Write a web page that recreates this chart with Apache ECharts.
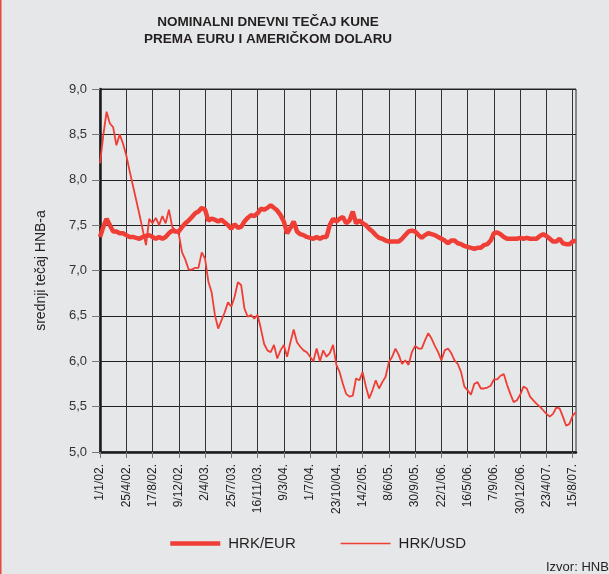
<!DOCTYPE html>
<html>
<head>
<meta charset="utf-8">
<script src="https://cdn.jsdelivr.net/npm/echarts@6.0.0/dist/echarts.min.js"></script>
<style>
html,body{margin:0;padding:0;background:#e6e7e8;}
#c{width:609px;height:574px;}
</style>
</head>
<body>
<div id="c"></div>
<script>
var tickLabels = ['1/1/02.','25/4/02.','17/8/02.','9/12/02.','2/4/03.','25/7/03.','16/11/03.','9/3/04.','1/7/04.','23/10/04.','14/2/05.','8/6/05.','30/9/05.','22/1/06.','16/5/06.','7/9/06.','30/12/06.','23/4/07.','15/8/07.'];
var stepsPerTick = 8;

var hrkUsd = [
8.18, 8.49, 8.75, 8.62, 8.58, 8.38, 8.50, 8.40,
8.27, 8.10, 7.94, 7.78, 7.62, 7.45, 7.28, 7.57,
7.52, 7.58, 7.50, 7.60, 7.52, 7.67, 7.48, 7.44,
7.40, 7.20, 7.12, 7.01, 7.01, 7.03, 7.03, 7.20,
7.13, 6.88, 6.76, 6.51, 6.36, 6.45, 6.54, 6.65,
6.60, 6.71, 6.87, 6.84, 6.58, 6.49, 6.51, 6.47,
6.51, 6.36, 6.19, 6.12, 6.10, 6.18, 6.03, 6.12,
6.18, 6.05, 6.21, 6.35, 6.21, 6.16, 6.12, 6.10,
6.05, 6.00, 6.14, 6.00, 6.12, 6.05, 6.09, 6.18,
5.96, 5.88, 5.75, 5.64, 5.61, 5.62, 5.81, 5.79,
5.88, 5.72, 5.59, 5.68, 5.79, 5.70, 5.77, 5.83,
5.99, 6.05, 6.14, 6.07, 5.97, 6.01, 5.96, 6.10,
6.17, 6.14, 6.14, 6.23, 6.31, 6.25, 6.17, 6.10,
6.01, 6.12, 6.14, 6.09, 6.01, 5.97, 5.88, 5.72,
5.68, 5.63, 5.75, 5.77, 5.70, 5.70, 5.71, 5.73,
5.80, 5.80, 5.84, 5.86, 5.74, 5.64, 5.55, 5.57,
5.63, 5.72, 5.70, 5.61, 5.57, 5.53, 5.50, 5.46,
5.42, 5.39, 5.42, 5.49, 5.48, 5.39, 5.29, 5.31,
5.40, 5.44
];

var hrkEur = [
7.37, 7.48, 7.57, 7.50, 7.43, 7.43, 7.41, 7.41,
7.39, 7.37, 7.37, 7.36, 7.35, 7.37, 7.38, 7.39,
7.37, 7.35, 7.37, 7.35, 7.37, 7.41, 7.44, 7.43,
7.43, 7.48, 7.52, 7.55, 7.59, 7.63, 7.65, 7.69,
7.67, 7.55, 7.57, 7.56, 7.54, 7.56, 7.53, 7.50,
7.46, 7.51, 7.47, 7.48, 7.54, 7.58, 7.61, 7.60,
7.63, 7.68, 7.67, 7.69, 7.72, 7.69, 7.66, 7.61,
7.54, 7.41, 7.47, 7.54, 7.43, 7.40, 7.39, 7.37,
7.36, 7.35, 7.37, 7.35, 7.37, 7.37, 7.50, 7.57,
7.54, 7.57, 7.59, 7.52, 7.55, 7.65, 7.52, 7.55,
7.52, 7.50, 7.46, 7.43, 7.39, 7.36, 7.35, 7.33,
7.32, 7.32, 7.32, 7.32, 7.35, 7.39, 7.43, 7.44,
7.43, 7.39, 7.36, 7.39, 7.41, 7.40, 7.39, 7.37,
7.35, 7.33, 7.30, 7.33, 7.33, 7.30, 7.29, 7.27,
7.26, 7.25, 7.24, 7.25, 7.25, 7.28, 7.29, 7.33,
7.41, 7.42, 7.40, 7.37, 7.35, 7.35, 7.35, 7.35,
7.36, 7.35, 7.36, 7.35, 7.35, 7.35, 7.38, 7.40,
7.38, 7.35, 7.32, 7.32, 7.35, 7.30, 7.29, 7.29,
7.32, 7.33
];

var categories = hrkEur.map(function (_, i) { return String(i); });
var FONT = "'Liberation Sans', Arial, sans-serif";
var RED = '#ef3e36';

var chart = echarts.init(document.getElementById('c'), null, {renderer: 'canvas'});
chart.setOption({
  animation: false,
  backgroundColor: '#e6e7e8',
  textStyle: {fontFamily: FONT},
  graphic: [
    {type: 'rect', left: 0, top: 0, shape: {x: 0, y: 0, width: 1.5, height: 574}, style: {fill: '#e8493f'}},
    {type: 'text', x: 268, y: 14, style: {text: 'NOMINALNI DNEVNI TEČAJ KUNE\nPREMA EURU I AMERIČKOM DOLARU', font: 'bold 13.5px ' + FONT, fill: '#231f20', align: 'center', verticalAlign: 'top', lineHeight: 17}},
    {type: 'text', x: 546, y: 561, style: {text: 'Izvor: HNB', font: '13px ' + FONT, fill: '#231f20', verticalAlign: 'top'}}
  ],
  grid: {left: 100, right: 33, top: 89, bottom: 122, show: true, borderColor: '#2a2a2a', borderWidth: 1, backgroundColor: 'transparent'},
  legend: {
    left: 168, top: 536, padding: 0, itemGap: 44, itemWidth: 50, itemHeight: 14,
    itemStyle: {opacity: 0},
    textStyle: {fontSize: 15, color: '#231f20', fontFamily: FONT, padding: [0, 0, 0, 3]},
    data: [
      {name: 'HRK/EUR', lineStyle: {width: 4.5}, itemStyle: {opacity: 0}},
      {name: 'HRK/USD', lineStyle: {width: 1.6}, itemStyle: {opacity: 0}}
    ]
  },
  xAxis: {
    type: 'category', data: categories, boundaryGap: false,
    axisLine: {show: true, lineStyle: {color: '#1a1a1a', width: 2.5}},
    axisTick: {show: true, interval: stepsPerTick - 1, length: 6, lineStyle: {color: '#777'}},
    axisLabel: {
      interval: stepsPerTick - 1, rotate: 90, fontSize: 12, color: '#231f20', margin: 12, fontFamily: FONT,
      formatter: function (v, idx) { return idx % stepsPerTick === 0 ? tickLabels[idx / stepsPerTick] : ''; }
    },
    splitLine: {show: true, interval: stepsPerTick - 1, lineStyle: {color: '#333', width: 1}}
  },
  yAxis: {
    type: 'value', min: 5, max: 9, interval: 0.5,
    name: 'srednji tečaj HNB-a', nameLocation: 'middle', nameGap: 52, nameRotate: 90,
    nameTextStyle: {fontSize: 14, color: '#231f20', fontFamily: FONT},
    axisLine: {show: true, lineStyle: {color: '#1a1a1a', width: 2.5}},
    axisTick: {show: true, length: 8, lineStyle: {color: '#777'}},
    axisLabel: {fontSize: 13, color: '#333', margin: 13, fontFamily: FONT, formatter: function (v) { return v.toFixed(1).replace('.', ','); }},
    splitLine: {show: true, lineStyle: {color: '#222', width: 1}}
  },
  series: [
    {name: 'HRK/EUR', type: 'line', data: hrkEur, symbol: 'none', lineStyle: {color: RED, width: 4.5}, itemStyle: {color: RED}, z: 3},
    {name: 'HRK/USD', type: 'line', data: hrkUsd, symbol: 'none', lineStyle: {color: RED, width: 1.8}, itemStyle: {color: RED}, z: 4}
  ]
});
</script>
</body>
</html>
